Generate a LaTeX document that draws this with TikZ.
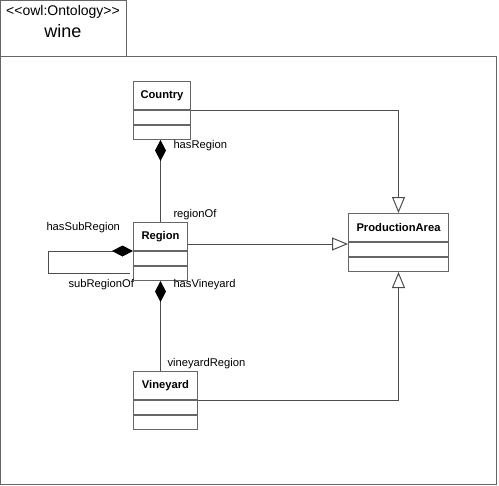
\documentclass[tikz,border=0pt]{standalone}
\usepackage{fontspec}
\setmainfont{Liberation Sans}
\usetikzlibrary{positioning,arrows.meta}

\tikzset{every picture/.style={line width=0.75pt}}
\tikzset{
  clstitle/.style={draw=black!60, anchor=north west, inner sep=0pt, minimum height=28*0.75pt, font=\bfseries\fontsize{8.4}{10}\selectfont},
  clscomp/.style={draw=black!60, inner sep=0pt, minimum height=14*0.75pt},
  lbl/.style={anchor=west, inner sep=0pt, font=\fontsize{8.4}{10}\selectfont},
  gen/.style={draw=black!70, -{Triangle[open, length=12pt, width=9.75pt]}},
  comp/.style={draw=black!70, {Diamond[length=15.75pt, width=8.25pt, color=black]}-}
}

\begin{document}
\begin{tikzpicture}[x=0.75pt,y=0.75pt,yscale=-1,xscale=1]
\useasboundingbox (0,0) rectangle (499,485);

%Shape: Ontology tab
\draw [color=black!60] (0.5,0.5) rectangle (126,57) ;
%Shape: Ontology frame
\draw [color=black!60] (0.5,57) rectangle (496,484) ;
% Text Node
\node [inner sep=0pt, font=\fontsize{10.5}{12}\selectfont] (stereo) at (63,12) {\hbox{<}\hbox{<}owl:Ontology\hbox{>}\hbox{>}};
% Text Node
\node [inner sep=0pt, font=\fontsize{13.5}{15}\selectfont] (ontname) at (63,31) {wine};

%Class: Country
\node [clstitle, minimum width=57*0.75pt] (country) at (133,81) {Country};
\node [clscomp, minimum width=57*0.75pt, below=0pt of country] (country1) {};
\node [clscomp, minimum width=57*0.75pt, below=0pt of country1] (country2) {};
%Class: Region
\node [clstitle, minimum width=54*0.75pt] (region) at (133,222) {Region};
\node [clscomp, minimum width=54*0.75pt, below=0pt of region] (region1) {};
\node [clscomp, minimum width=54*0.75pt, below=0pt of region1] (region2) {};
%Class: Vineyard
\node [clstitle, minimum width=64*0.75pt] (vineyard) at (133,371) {Vineyard};
\node [clscomp, minimum width=64*0.75pt, below=0pt of vineyard] (vineyard1) {};
\node [clscomp, minimum width=64*0.75pt, below=0pt of vineyard1] (vineyard2) {};
%Class: ProductionArea
\node [clstitle, minimum width=100*0.75pt] (parea) at (348,213) {ProductionArea};
\node [clscomp, minimum width=100*0.75pt, below=0pt of parea] (parea1) {};
\node [clscomp, minimum width=100*0.75pt, below=0pt of parea1] (parea2) {};

\coordinate (regrow) at (0,244);
\coordinate (loop) at (48,273);

%Generalisations
\draw [gen] (country.south east) -| (parea.north) ;
\draw [gen] (region.east |- regrow) -- (parea.west |- regrow) ;
\draw [gen] (vineyard.south east) -| (parea2.south) ;
%Compositions
\draw [comp] (region.north |- country2.south) -- (region.north) ;
\draw [comp] (region2.south) -- (region2.south |- vineyard.north) ;
\draw [comp] (region.south west) -| (loop) -- ([xshift=-2.25pt]loop -| region2.west) ;

% Text Node
\node [lbl] (hasregion) at (173,146) {hasRegion};
% Text Node
\node [lbl] (regionof) at (173,215) {regionOf};
% Text Node
\node [lbl] (hassubregion) at (46,228) {hasSubRegion};
% Text Node
\node [lbl] (subregionof) at (68,285) {subRegionOf};
% Text Node
\node [lbl] (hasvineyard) at (173,285) {hasVineyard};
% Text Node
\node [lbl] (vineyardregion) at (167,364) {vineyardRegion};

\end{tikzpicture}
\end{document}
